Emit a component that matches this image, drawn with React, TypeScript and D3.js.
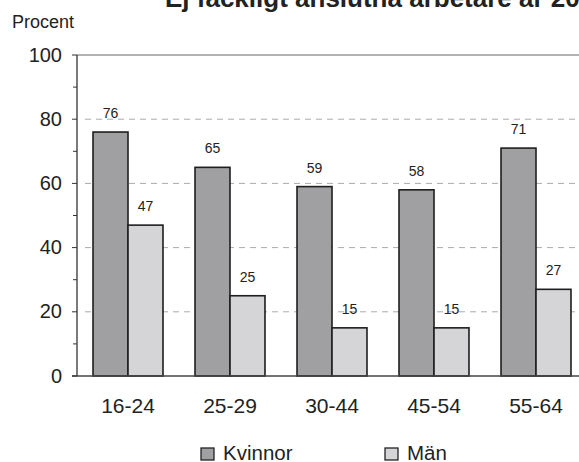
import React from "react";
import * as d3 from "d3";

const categories = ["16-24", "25-29", "30-44", "45-54", "55-64"];
const kvinnor = [76, 65, 59, 58, 71];
const man = [47, 25, 15, 15, 27];
const seriesNames = ["Kvinnor", "Män"];
const yTicks = [0, 20, 40, 60, 80, 100];
const yMinorTicks = [10, 30, 50, 70, 90];
const title = "Ej fackligt anslutna arbetare år 2006";
const yLabel = "Procent";

const W = 579;
const H = 462;
const font = "'Liberation Sans', Arial, Helvetica, sans-serif";
const colors = ["#a0a0a2", "#d5d5d7"];

export default function App() {
  const x0 = 77;
  const x1 = 587;
  const yTop = 55;
  const yBot = 376;
  const x = d3.scaleBand<string>().domain(categories).range([x0, x1]).paddingInner(0.314).paddingOuter(0.157);
  const y = d3.scaleLinear().domain([0, 100]).range([yBot, yTop]);
  const bw = x.bandwidth() / 2;
  const series = [kvinnor, man];

  return (
    <svg width={W} height={H} style={{ position: "absolute", left: 0, top: 0 }} fontFamily={font}>
      <rect width={W} height={H} fill="#fff" />
      <text x={165} y={7} fontSize={26} fontWeight="bold" fill="#222">{title}</text>
      <text x={12} y={28} fontSize={18} fill="#222">{yLabel}</text>
      {/* gridlines */}
      {yTicks.filter((t) => t > 0 && t < 100).map((t) => (
        <line key={t} x1={x0 + 8} x2={x1} y1={y(t)} y2={y(t)} stroke="#aaa" strokeWidth={1} strokeDasharray="6,5" />
      ))}
      <line x1={x0} x2={x1} y1={y(100)} y2={y(100)} stroke="#999" strokeWidth={1.5} />
      {/* bars */}
      {categories.map((c, i) =>
        series.map((s, j) => {
          const bx = (x(c) as number) + j * bw;
          return (
            <g key={c + j}>
              <rect x={bx} y={y(s[i])} width={bw} height={yBot - y(s[i])} fill={colors[j]} stroke="#1e1e1e" strokeWidth={1.6} />
              <text x={bx + bw / 2} y={y(s[i]) - 14} fontSize={14} textAnchor="middle" fill="#222">{s[i]}</text>
            </g>
          );
        })
      )}
      {/* axes */}
      <line x1={x0} x2={x0} y1={y(100)} y2={yBot} stroke="#333" strokeWidth={1.3} />
      <line x1={x0 - 5} x2={x1} y1={yBot} y2={yBot} stroke="#444" strokeWidth={1.5} />
      {yTicks.map((t) => (
        <g key={t}>
          <line x1={x0 - 5} x2={x0} y1={y(t)} y2={y(t)} stroke="#333" strokeWidth={1} />
          <text x={62} y={y(t) + 6.5} fontSize={20} textAnchor="end" fill="#222">{t}</text>
        </g>
      ))}
      {yMinorTicks.map((t) => (
        <line key={t} x1={x0 - 4} x2={x0} y1={y(t)} y2={y(t)} stroke="#333" strokeWidth={1} />
      ))}
      {categories.map((c) => (
        <text key={c} x={(x(c) as number) + x.bandwidth() / 2} y={413} fontSize={21} textAnchor="middle" fill="#222">{c}</text>
      ))}
      {/* legend */}
      {seriesNames.map((n, j) => {
        const lx = j === 0 ? 201 : 385;
        return (
          <g key={n}>
            <rect x={lx} y={448} width={13} height={12} fill={colors[j]} stroke="#222" strokeWidth={1.3} />
            <text x={lx + 22} y={459.5} fontSize={20.5} fill="#222">{n}</text>
          </g>
        );
      })}
    </svg>
  );
}
